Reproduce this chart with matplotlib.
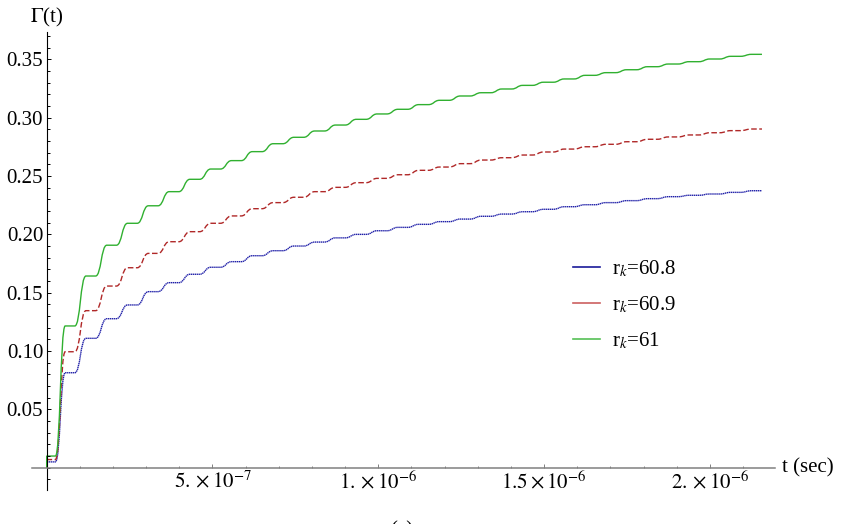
import numpy as np
import matplotlib
matplotlib.use("Agg")
import matplotlib.pyplot as plt
from matplotlib.path import Path
from matplotlib.patches import PathPatch
from matplotlib.lines import Line2D
from matplotlib.ticker import FixedLocator, FixedFormatter, MultipleLocator

plt.rcParams['font.family'] = ['Liberation Serif', 'DejaVu Serif']
plt.rcParams['mathtext.fontset'] = 'stix'

# plateau centres of the staircase (units of 1e-8 s)
step_t = np.array([
    1.2, 7.03, 13.30, 19.57, 25.84, 32.12, 38.39, 44.66, 50.94, 57.21,
    63.48, 69.75, 76.03, 82.30, 88.57, 94.84, 101.12, 107.39, 113.66,
    119.93, 126.21, 132.48, 138.75, 145.03, 151.30, 157.57, 163.84,
    170.12, 176.39, 182.66, 188.93, 195.21, 201.48, 207.75, 214.02,
]) * 1e-8
t_end = 2.157e-6

gamma_608 = [
    0.005, 0.0814, 0.1109, 0.1277, 0.1395, 0.1509, 0.1586, 0.1658, 0.1718,
    0.1766, 0.1817, 0.1860, 0.1900, 0.1934, 0.1970, 0.2000, 0.2031, 0.2060,
    0.2086, 0.2109, 0.2131, 0.2155, 0.2174, 0.2194, 0.2215, 0.2237, 0.2254,
    0.2272, 0.2289, 0.2306, 0.2323, 0.2335, 0.2346, 0.2360, 0.2374,
]
gamma_609 = [
    0.007, 0.0994, 0.1346, 0.1557, 0.1714, 0.1837, 0.1937, 0.2023, 0.2095,
    0.2158, 0.2220, 0.2272, 0.2318, 0.2366, 0.2403, 0.2443, 0.2480, 0.2511,
    0.2549, 0.2577, 0.2606, 0.2637, 0.2657, 0.2680, 0.2706, 0.2731, 0.2751,
    0.2772, 0.2794, 0.2815, 0.2835, 0.2852, 0.2871, 0.2889, 0.2903,
]
gamma_61 = [
    0.010, 0.1215, 0.1643, 0.1907, 0.2095, 0.2245, 0.2366, 0.2472, 0.2560,
    0.2632, 0.2709, 0.2777, 0.2832, 0.2886, 0.2937, 0.2986, 0.3032, 0.3072,
    0.3112, 0.3149, 0.3186, 0.3214, 0.3246, 0.3277, 0.3304, 0.3332, 0.3363,
    0.3386, 0.3411, 0.3437, 0.3460, 0.3480, 0.3503, 0.3526, 0.3543,
]

labels = [r'r$_{k}$=60.8', r'r$_{k}$=60.9', r'r$_{k}$=61']
colors = ['#1f1fa8', '#b02828', '#30b030']
legend_colors = ['#1a1a9a', '#cc6060', '#55c055']
styles = [(0, (1.0, 0.4)), (0, (4.0, 1.8)), '-']

xticks = [5e-7, 1e-6, 1.5e-6, 2e-6]
xtick_labels = [r'$5.\times10^{-7}$', r'$1.\times10^{-6}$',
                r'$1.5\times10^{-6}$', r'$2.\times10^{-6}$']
yticks = [0.05, 0.10, 0.15, 0.20, 0.25, 0.30, 0.35]
ytick_labels = ['0.05', '0.10', '0.15', '0.20', '0.25', '0.30', '0.35']


def staircase(ts, ys, t_stop, half):
    # flat plateaus joined by smooth bezier risers
    verts = [(0.0, 0.0)]
    codes = [Path.MOVETO]
    x0, y0 = 0.0, 0.0
    for t, y in zip(ts, ys):
        x1 = max(t - half, x0)
        d = (x1 - x0) * 0.5
        verts += [(x0 + d, y0), (x1 - d, y), (x1, y)]
        codes += [Path.CURVE4] * 3
        x0, y0 = min(t + half, t_stop), y
        verts.append((x0, y0))
        codes.append(Path.LINETO)
    if x0 < t_stop:
        verts.append((t_stop, y0))
        codes.append(Path.LINETO)
    return Path(verts, codes)


W, H = 841, 524
fig = plt.figure(figsize=(W / 100, H / 100), dpi=100)
ax = fig.add_axes([31.7 / W, 1 - 490 / H, (775 - 31.7) / W, (490 - 31.7) / H])
ax.set_xlim(-4.52e-8, 2.1963e-6)
ax.set_ylim(-0.0191, 0.3737)

half = 1.45e-8
for ys, c, ls in zip([gamma_608, gamma_609, gamma_61], colors, styles):
    patch = PathPatch(staircase(step_t, ys, t_end, half), fill=False,
                      edgecolor=c, linestyle=ls, linewidth=1.0,
                      capstyle='butt')
    ax.add_patch(patch)

# Mathematica-style axes crossing at the origin
for side in ['top', 'right']:
    ax.spines[side].set_visible(False)
ax.spines['left'].set_position(('data', 0))
ax.spines['bottom'].set_position(('data', 0))
ax.spines['left'].set_color('black')
ax.spines['left'].set_linewidth(0.8)
ax.spines['bottom'].set_color('#808080')
ax.spines['bottom'].set_linewidth(1.1)

ax.xaxis.set_major_locator(FixedLocator(xticks))
ax.xaxis.set_major_formatter(FixedFormatter(xtick_labels))
ax.xaxis.set_minor_locator(MultipleLocator(1e-7))
ax.yaxis.set_major_locator(FixedLocator(yticks))
ax.yaxis.set_major_formatter(FixedFormatter(ytick_labels))
ax.yaxis.set_minor_locator(MultipleLocator(0.01))

ax.tick_params(which='both', direction='in', labelsize=15, width=0.7)
ax.tick_params(which='major', length=3.0, pad=2.5)
ax.tick_params(which='minor', length=1.8)
ax.tick_params(axis='x', which='both', color='#808080')

fig.text(46.7 / W, 1 - 17 / H, r'$\Gamma$(t)', ha='center', va='center',
         fontsize=15)
fig.text(782 / W, 1 - 468 / H, 't (sec)', ha='left', va='center', fontsize=15)
# panel label sits at the very bottom edge, as in the source figure
fig.text(402 / W, 1 - 521 / H, '(a)', ha='center', va='top', fontsize=15)

handles = [Line2D([], [], color=c, linestyle='-', linewidth=1.2)
           for c in legend_colors]
ax.legend(handles, labels, loc='center left',
          bbox_to_anchor=(573 / W, 1 - 305 / H), bbox_transform=fig.transFigure,
          frameon=False, borderpad=0, borderaxespad=0, fontsize=15,
          handlelength=1.3, handletextpad=0.55, labelspacing=0.72)

fig.savefig('out.png', dpi=100)
